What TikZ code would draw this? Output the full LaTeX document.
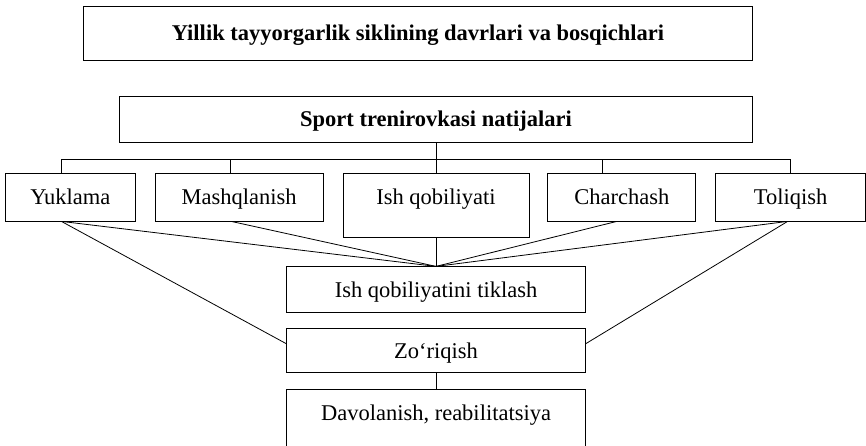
\documentclass[tikz,border=0pt]{standalone}
\usepackage{fontspec}
\setmainfont{Liberation Serif}
\usetikzlibrary{positioning}
\tikzset{
  box/.style={rectangle,draw,line width=0.8pt,align=center,inner sep=0pt,text height=31.5pt,text depth=16.5pt},
  conn/.style={line width=0.8pt}
}

\begin{document}
\begin{tikzpicture}[x=1pt,y=1pt,node distance=19pt,font=\fontsize{22.5}{27}\selectfont]
\useasboundingbox (0,0) rectangle (866,-446);
\clip (0,0) rectangle (866,-446);
\node[box, minimum width=186pt, text depth=32.5pt, anchor=base] (ishq) at (436,-204.5) {Ish qobiliyati};
\node[box, minimum width=168pt, base left=of ishq] (mash) {Mashqlanish};
\node[box, minimum width=130pt, base left=of mash] (yuk) {Yuklama};
\node[box, minimum width=148pt, base right=18pt of ishq] (charch) {Charchash};
\node[box, minimum width=150pt, base right=of charch] (tol) {Toliqish};
\node[box, minimum width=633pt, text height=30.5pt, text depth=15.5pt, above=30pt of ishq] (sport) {\bfseries Sport trenirovkasi natijalari};
\node[box, minimum width=669pt, text height=34.5pt, text depth=19.5pt, above=35pt of sport, xshift=-18pt] (yil) {\bfseries Yillik tayyorgarlik siklining davrlari va bosqichlari};
\node[box, minimum width=299pt, text height=30.5pt, text depth=15.5pt, below=29pt of ishq] (tik) {Ish qobiliyatini tiklash};
\node[box, minimum width=299pt, text height=29.5pt, text depth=14.5pt, below=15pt of tik] (zor) {Zo‘riqish};
\node[box, minimum width=299pt, text height=31pt, text depth=60pt, below=16pt of zor] (dav) {Davolanish, reabilitatsiya};
\coordinate (bus) at ([yshift=-17pt]sport.south);
\draw[conn] (sport) -- (bus);
\foreach \n/\d in {yuk/-9,mash/-9,ishq/0,charch/-19,tol/0}
  \draw[conn] ([xshift=\d pt]\n.north) |- (bus);
\foreach \n/\d in {yuk/-9,mash/-8,charch/-5,tol/-3}
  \draw[conn] ([xshift=\d pt]\n.south) -- (tik.north);
\draw[conn] (ishq) -- (tik);
\draw[conn] ([xshift=-9pt]yuk.south) -- ([yshift=7pt]zor.west);
\draw[conn] ([xshift=-3pt]tol.south) -- ([yshift=7pt]zor.east);
\draw[conn] (zor) -- (dav);
\end{tikzpicture}
\end{document}
